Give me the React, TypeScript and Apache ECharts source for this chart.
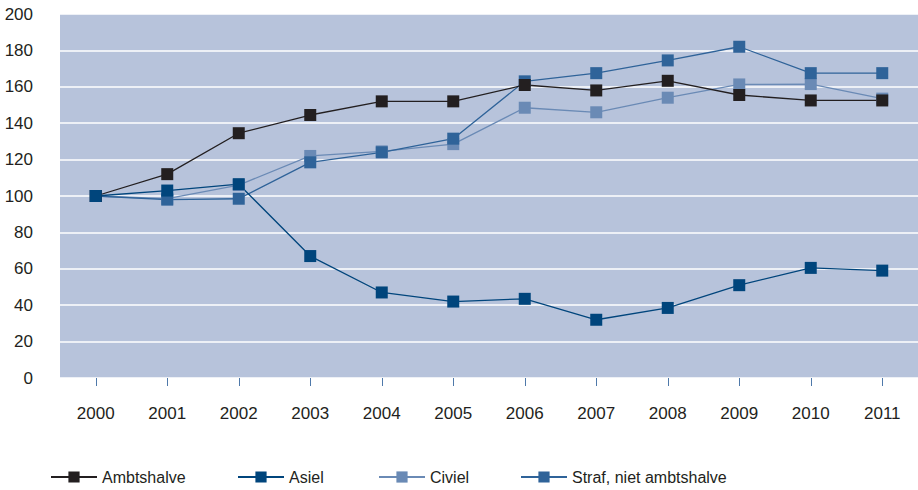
import React, { useEffect, useRef } from "react";
import * as echarts from "echarts";

const years = ["2000", "2001", "2002", "2003", "2004", "2005", "2006", "2007", "2008", "2009", "2010", "2011"];
const ambtshalve = [100, 112, 134.5, 144.5, 152, 152, 161, 158, 163.3, 155.5, 152.5, 152.5];
const asiel = [100, 103, 106.5, 67, 47, 42, 43.5, 32, 38.5, 51, 60.5, 59];
const civiel = [100, 98.5, 106, 122, 124.5, 128.5, 148.5, 146, 154, 161.3, 161.5, 153.5];
const straf = [100, 98, 98.5, 118.5, 124, 131.5, 163, 167.5, 174.5, 182, 167.5, 167.5];

const FONT = "'Liberation Sans', Arial, sans-serif";
const TEXT = "#231f20";

const colors: Record<string, string> = {
  Ambtshalve: "#231f20",
  Asiel: "#00457c",
  Civiel: "#6a8ab5",
  "Straf, niet ambtshalve": "#2f6399",
};

function mkSeries(name: string, data: number[]) {
  return {
    name,
    type: "line",
    data,
    symbol: "rect",
    symbolSize: 12,
    lineStyle: { width: 1.3, color: colors[name] },
    itemStyle: { color: colors[name] },
    emphasis: { disabled: true },
  };
}

export default function App() {
  const ref = useRef<HTMLDivElement>(null);
  useEffect(() => {
    if (!ref.current) return;
    const chart = echarts.init(ref.current, undefined, { renderer: "svg" });
    const legendBase = {
      top: 469,
      itemWidth: 46,
      itemHeight: 14,
      textStyle: { fontFamily: FONT, fontSize: 16, color: TEXT },
      padding: 0,
    };
    chart.setOption({
      animation: false,
      grid: {
        left: 60,
        right: 0,
        top: 14,
        bottom: 112,
        show: true,
        backgroundColor: "#b7c3db",
        borderWidth: 0,
      },
      legend: [
        { ...legendBase, left: 50, data: ["Ambtshalve"] },
        { ...legendBase, left: 237, data: ["Asiel"] },
        { ...legendBase, left: 378, data: ["Civiel"] },
        { ...legendBase, left: 520, data: ["Straf, niet ambtshalve"] },
      ],
      xAxis: {
        type: "category",
        data: years,
        boundaryGap: true,
        axisLine: { show: false },
        axisTick: { show: true, alignWithLabel: true, length: 8, lineStyle: { color: "#4f79aa", width: 1 } },
        axisLabel: { fontFamily: FONT, fontSize: 17, color: TEXT, margin: 27 },
      },
      yAxis: {
        type: "value",
        min: 0,
        max: 200,
        interval: 20,
        axisLine: { show: false },
        axisTick: { show: false },
        axisLabel: { fontFamily: FONT, fontSize: 17, color: TEXT, margin: 27 },
        splitLine: { lineStyle: { color: "#ffffff", width: 1.5 } },
      },
      series: [
        mkSeries("Civiel", civiel),
        mkSeries("Straf, niet ambtshalve", straf),
        mkSeries("Ambtshalve", ambtshalve),
        mkSeries("Asiel", asiel),
      ],
    });
    return () => chart.dispose();
  }, []);
  return <div ref={ref} style={{ width: 918, height: 490, position: "absolute", left: 0, top: 0 }} />;
}
